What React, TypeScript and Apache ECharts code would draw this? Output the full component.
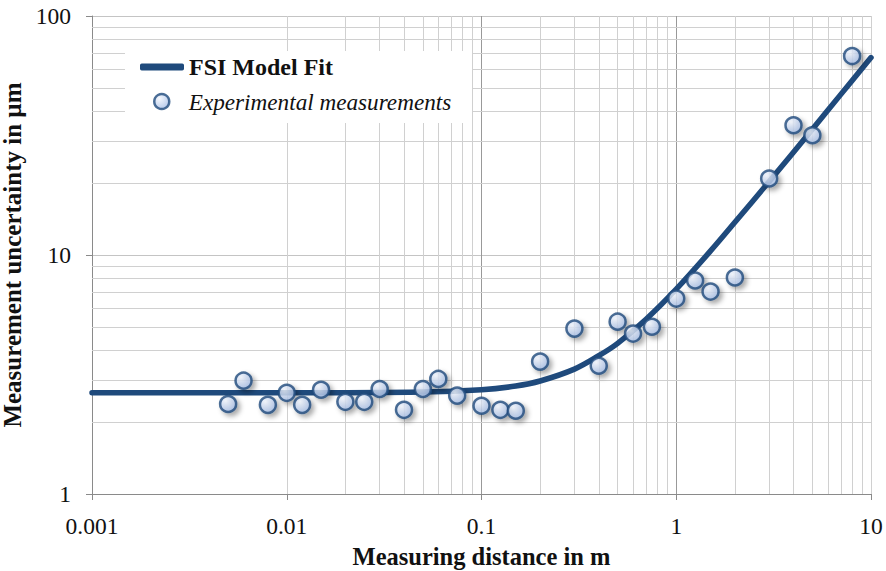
import { useEffect, useRef } from "react";
import * as echarts from "echarts";

// Model fit curve samples (distance in m, uncertainty in µm)
const fitDistance = [0.001, 0.01, 0.05, 0.1, 0.15, 0.2, 0.3, 0.4, 0.5, 0.7, 1, 1.5, 2, 3, 5, 7, 10];
const fitUncertainty = [2.65, 2.65, 2.67, 2.73, 2.83, 2.97, 3.33, 3.79, 4.27, 5.39, 7.2, 10.4, 13.7, 20.3, 33.6, 47, 67];

// Experimental measurements
const measDistance = [
  0.005, 0.006, 0.008, 0.01, 0.012, 0.015, 0.02, 0.025, 0.03, 0.04, 0.05, 0.06, 0.075, 0.1, 0.125,
  0.15, 0.2, 0.3, 0.4, 0.5, 0.6, 0.75, 1, 1.25, 1.5, 2, 3, 4, 5, 8,
];
const measUncertainty = [
  2.38, 2.98, 2.36, 2.65, 2.36, 2.73, 2.43, 2.43, 2.75, 2.25, 2.75, 3.03, 2.58, 2.34, 2.25,
  2.23, 3.58, 4.92, 3.44, 5.26, 4.69, 5.01, 6.57, 7.82, 7.03, 8.05, 20.9, 34.9, 31.7, 68,
];

const xDecades = [0.001, 0.01, 0.1, 1];
const yDecades = [1, 10];
const decadeSteps = [2, 3, 4, 5, 6, 7, 8, 9];

const SERIES_FIT = "FSI Model Fit";
const SERIES_MEAS = "Experimental measurements";

const FONT = "'Liberation Serif', 'Times New Roman', serif";
const BLUE = "#1f4a7c";
const INK = "#111111";

export default function App() {
  const ref = useRef<HTMLDivElement>(null);

  useEffect(() => {
    if (!ref.current) return;
    const chart = echarts.init(ref.current, undefined, { renderer: "svg" });

    const xMinor = xDecades.flatMap((d) => decadeSteps.map((s) => +(d * s).toPrecision(3)));
    const yMinor = yDecades.flatMap((d) => decadeSteps.map((s) => +(d * s).toPrecision(3)));

    const pointFill = new echarts.graphic.RadialGradient(0.35, 0.3, 0.8, [
      { offset: 0, color: "#f2f6fd" },
      { offset: 1, color: "#9fb8e3" },
    ]);

    chart.setOption({
      animation: false,
      backgroundColor: "#ffffff",
      grid: {
        left: 92,
        right: 15,
        top: 16,
        bottom: 77,
        containLabel: false,
        outerBoundsMode: "none",
      },
      xAxis: {
        type: "log",
        logBase: 10,
        min: 0.001,
        max: 10,
        name: "Measuring distance in m",
        nameLocation: "middle",
        nameGap: 50,
        nameTextStyle: { fontFamily: FONT, fontWeight: "bold", fontSize: 24.5, color: INK },
        axisLine: { show: true, lineStyle: { color: "#8a8a8a", width: 1 } },
        axisTick: { show: true, length: 6, lineStyle: { color: "#8a8a8a" } },
        axisLabel: { margin: 20, fontFamily: FONT, fontSize: 23.5, color: INK },
        splitLine: {
          show: true,
          showMinLine: false,
          showMaxLine: false,
          lineStyle: { color: "#999999", width: 1 },
        },
      },
      yAxis: {
        type: "log",
        logBase: 10,
        min: 1,
        max: 100,
        name: "Measurement uncertainty in µm",
        nameLocation: "middle",
        nameRotate: 90,
        nameGap: 55,
        nameTextStyle: { fontFamily: FONT, fontWeight: "bold", fontSize: 25, color: INK },
        axisLine: { show: true, lineStyle: { color: "#8a8a8a", width: 1 } },
        axisTick: { show: true, length: 6, lineStyle: { color: "#8a8a8a" } },
        axisLabel: { margin: 21, fontFamily: FONT, fontSize: 23.5, color: INK },
        splitLine: { show: true, lineStyle: { color: "#c4c4c4", width: 1 } },
      },
      legend: [
        {
          data: [{ name: SERIES_FIT, icon: "roundRect", itemStyle: { color: BLUE } }],
          left: 140,
          top: 55,
          padding: 0,
          itemWidth: 44,
          itemHeight: 7,
          selectedMode: false,
          z: 6,
          textStyle: { fontFamily: FONT, fontWeight: "bold", fontSize: 24, color: INK },
        },
        {
          data: [
            {
              name: SERIES_MEAS,
              icon: "circle",
              itemStyle: { color: pointFill, borderColor: BLUE, borderWidth: 2.5, shadowBlur: 0 },
            },
          ],
          left: 153,
          top: 90,
          padding: 0,
          itemWidth: 44,
          itemHeight: 15,
          selectedMode: false,
          z: 6,
          textStyle: { fontFamily: FONT, fontStyle: "italic", fontSize: 23.2, color: INK },
        },
      ],
      graphic: [
        {
          type: "rect",
          z: 5,
          shape: { x: 125, y: 51, width: 347, height: 72 },
          style: { fill: "#ffffff" },
          silent: true,
        },
      ],
      series: [
        {
          name: "minorGrid",
          type: "line",
          data: [],
          z: 1,
          silent: true,
          markLine: {
            z: 1,
            silent: true,
            symbol: ["none", "none"],
            label: { show: false },
            emphasis: { disabled: true },
            lineStyle: { color: "#d0d0d0", width: 1, type: "solid" },
            data: [
              ...xMinor.map((v) => ({ xAxis: v })),
              { xAxis: 10 },
              ...yMinor.map((v) => ({ yAxis: v })),
            ],
          },
        },
        {
          name: SERIES_FIT,
          type: "line",
          z: 3,
          smooth: 0.35,
          showSymbol: false,
          symbol: "none",
          lineStyle: { color: BLUE, width: 5.5, cap: "round" },
          itemStyle: { color: BLUE },
          data: fitDistance.map((x, i) => [x, fitUncertainty[i]]),
        },
        {
          name: SERIES_MEAS,
          type: "scatter",
          z: 4,
          symbol: "circle",
          symbolSize: 16,
          itemStyle: {
            color: pointFill,
            borderColor: BLUE,
            borderWidth: 2.5,
            shadowBlur: 5,
            shadowOffsetX: 3,
            shadowOffsetY: 3,
            shadowColor: "rgba(0,0,0,0.4)",
          },
          data: measDistance.map((x, i) => [x, measUncertainty[i]]),
        },
      ],
    });

    return () => chart.dispose();
  }, []);

  return (
    <div
      ref={ref}
      style={{ position: "fixed", left: 0, top: 0, width: 886, height: 571 }}
    />
  );
}
